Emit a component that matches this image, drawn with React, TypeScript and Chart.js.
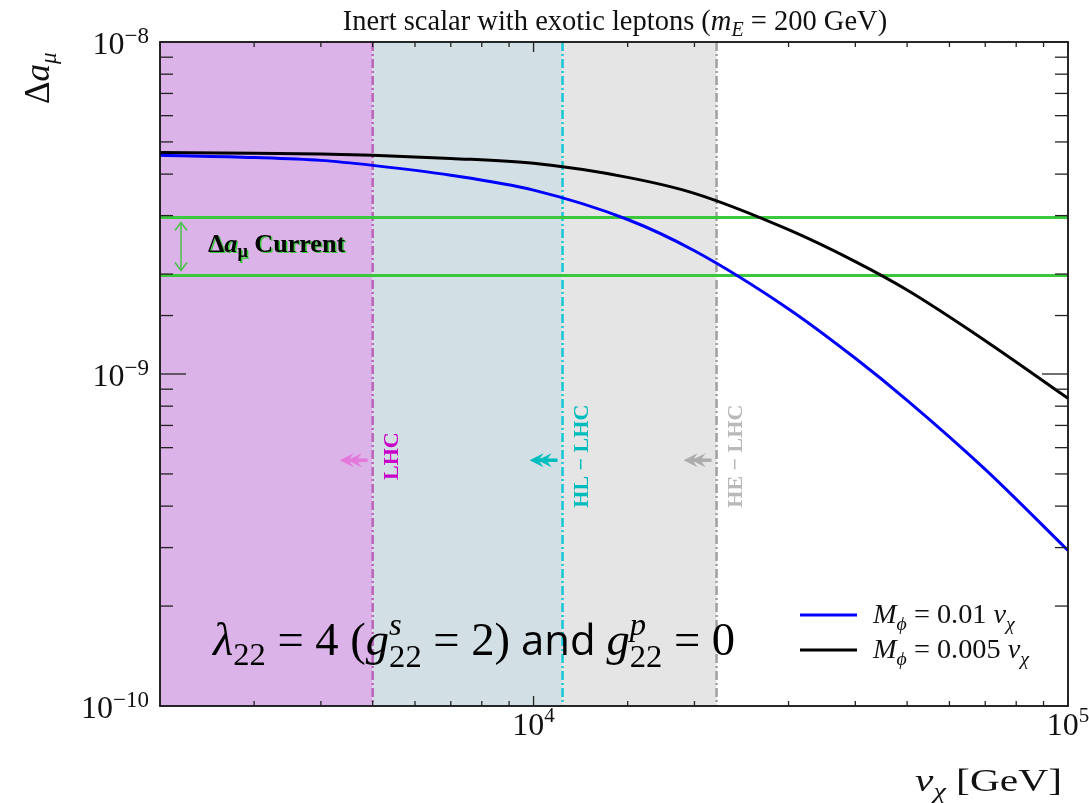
import React, { useEffect, useRef } from "react";
import { Chart, registerables } from "chart.js";

Chart.register(...registerables);

// ---------------- data ----------------
const vChi = [2000, 3000, 4000, 5000, 7000, 10000, 15000, 20000, 30000, 40000, 50000, 70000, 100000];
const blueValues = [4.56e-9, 4.49e-9, 4.40e-9, 4.25e-9, 3.97e-9, 3.58e-9, 2.92e-9, 2.35e-9, 1.57e-9, 1.115e-9, 8.33e-10, 5.16e-10, 2.94e-10];
const blackValues = [4.65e-9, 4.62e-9, 4.60e-9, 4.56e-9, 4.46e-9, 4.31e-9, 3.91e-9, 3.50e-9, 2.72e-9, 2.18e-9, 1.79e-9, 1.26e-9, 8.45e-10];
const currentBand = [1.98e-9, 2.96e-9];
const colliderNames = ["LHC", "HL \u2212 LHC", "HE \u2212 LHC"];
const colliderLimits = [5000, 11330, 22000];
const xRange = [2000, 100000];
const yRange = [1e-10, 1e-8];
const xTickValues = [1e4, 1e5];
const xTickExps = ["4", "5"];
const yTickValues = [1e-8, 1e-9, 1e-10];
const yTickExps = ["\u22128", "\u22129", "\u221210"];
const arrowLevel = 5.5e-10;

// ---------------- styles ----------------
const SERIF = '"Liberation Serif", "DejaVu Serif", serif';
const SANS = '"Open Sans", "Noto Sans", sans-serif';
const bandColors = ["rgb(219,179,232)", "rgb(210,223,228)", "rgb(229,229,229)"];
const lineColors = ["rgb(185,100,185)", "rgb(20,200,212)", "rgb(160,160,160)"];
const arrowColors = ["rgb(228,120,218)", "rgb(0,190,190)", "rgb(172,172,172)"];
const textColors = ["rgb(200,0,200)", "rgb(0,188,188)", "rgb(185,185,185)"];
const GREEN = "rgb(60,200,60)";

type Seg = { t: string; f: string; dy?: number; back?: boolean; c?: string };

const px = (n: number) => `${Math.round(n * 10) / 10}px`;

function richWidth(ctx: CanvasRenderingContext2D, segs: Seg[]) {
  let w = 0;
  for (const s of segs) {
    ctx.font = s.f;
    if (!s.back) w += ctx.measureText(s.t).width;
  }
  return w;
}

function drawRich(ctx: CanvasRenderingContext2D, segs: Seg[], x: number, y: number, align: "left" | "center" | "right", color: string) {
  const w = richWidth(ctx, segs);
  let cx = align === "left" ? x : align === "center" ? x - w / 2 : x - w;
  ctx.textAlign = "left";
  ctx.textBaseline = "alphabetic";
  for (const s of segs) {
    ctx.font = s.f;
    ctx.fillStyle = s.c || color;
    ctx.fillText(s.t, cx, y + (s.dy || 0));
    if (!s.back) cx += ctx.measureText(s.t).width;
  }
  return w;
}

function fitSize(ctx: CanvasRenderingContext2D, make: (s: number) => Seg[], target: number) {
  const w = richWidth(ctx, make(100));
  return Math.round((1000 * target) / w) / 10;
}

function line(ctx: CanvasRenderingContext2D, x0: number, y0: number, x1: number, y1: number) {
  ctx.beginPath();
  ctx.moveTo(x0, y0);
  ctx.lineTo(x1, y1);
  ctx.stroke();
}

function leftArrow(ctx: CanvasRenderingContext2D, xTail: number, xTip: number, yy: number, color: string) {
  ctx.strokeStyle = color;
  ctx.fillStyle = color;
  ctx.lineWidth = 3.5;
  line(ctx, xTail, yy, xTip + 8, yy);
  for (const off of [0, 8]) {
    ctx.beginPath();
    ctx.moveTo(xTip + off, yy);
    ctx.lineTo(xTip + off + 14, yy - 7);
    ctx.lineTo(xTip + off + 9, yy);
    ctx.lineTo(xTip + off + 14, yy + 7);
    ctx.closePath();
    ctx.fill();
  }
}

const titleSegs = (s: number): Seg[] => [
  { t: "Inert scalar with exotic leptons (", f: `${px(s)} ${SERIF}` },
  { t: "m", f: `italic ${px(s)} ${SERIF}` },
  { t: "E", f: `italic ${px(s * 0.7)} ${SERIF}`, dy: s * 0.22 },
  { t: " = 200 GeV)", f: `${px(s)} ${SERIF}` },
];

const lambdaSegs = (s: number): Seg[] => [
  { t: "\u03bb", f: `italic ${px(s)} ${SERIF}` },
  { t: "22", f: `${px(s * 0.7)} ${SERIF}`, dy: s * 0.22 },
  { t: " = 4 (", f: `${px(s)} ${SERIF}` },
  { t: "g", f: `italic ${px(s)} ${SERIF}` },
  { t: "s", f: `italic ${px(s * 0.7)} ${SERIF}`, dy: -s * 0.42, back: true },
  { t: "22", f: `${px(s * 0.7)} ${SERIF}`, dy: s * 0.26 },
  { t: " = 2)", f: `${px(s)} ${SERIF}` },
  { t: " and ", f: `${px(s * 0.9)} ${SANS}` },
  { t: "g", f: `italic ${px(s)} ${SERIF}` },
  { t: "p", f: `italic ${px(s * 0.7)} ${SERIF}`, dy: -s * 0.42, back: true },
  { t: "22", f: `${px(s * 0.7)} ${SERIF}`, dy: s * 0.26 },
  { t: " = 0", f: `${px(s)} ${SERIF}` },
];

const legendSegs = (s: number, val: string): Seg[] => [
  { t: "M", f: `italic ${px(s)} ${SERIF}` },
  { t: "\u03d5", f: `italic ${px(s * 0.7)} ${SERIF}`, dy: s * 0.25 },
  { t: ` = ${val} `, f: `${px(s)} ${SERIF}` },
  { t: "v", f: `italic ${px(s)} ${SERIF}` },
  { t: "\u03c7", f: `italic ${px(s * 0.7)} ${SERIF}`, dy: s * 0.25 },
];

const currentSegs = (s: number): Seg[] => [
  { t: "\u0394", f: `bold ${px(s)} ${SERIF}` },
  { t: "a", f: `bold italic ${px(s)} ${SERIF}` },
  { t: "\u03bc", f: `bold ${px(s * 0.7)} ${SERIF}`, dy: s * 0.22 },
  { t: " Current", f: `bold ${px(s)} ${SERIF}` },
];

const xTitleSegs: Seg[] = [
  { t: "v", f: `italic 31px ${SERIF}` },
  { t: "\u03c7", f: `italic 21px ${SERIF}`, dy: 7 },
  { t: " [GeV]", f: `31px ${SERIF}` },
];

const overlay = {
  id: "overlay",
  beforeDatasetsDraw(chart: any) {
    const { ctx, chartArea: a, scales } = chart;
    const x = scales.x;
    const y = scales.y;
    ctx.save();
    let prev = xRange[0];
    colliderLimits.forEach((lim, i) => {
      const x0 = x.getPixelForValue(prev);
      const x1 = x.getPixelForValue(lim);
      ctx.fillStyle = bandColors[i];
      ctx.fillRect(x0, a.top, x1 - x0, a.bottom - a.top);
      prev = lim;
    });
    colliderLimits.forEach((lim, i) => {
      const p = x.getPixelForValue(lim);
      ctx.strokeStyle = lineColors[i];
      ctx.lineWidth = 2.5;
      ctx.setLineDash([9, 3, 2, 3]);
      line(ctx, p, a.top, p, a.bottom);
    });
    ctx.setLineDash([]);
    const ay = y.getPixelForValue(arrowLevel);
    colliderLimits.forEach((lim, i) => {
      const p = x.getPixelForValue(lim);
      leftArrow(ctx, p - 5, p - 33, ay, arrowColors[i]);
      ctx.save();
      ctx.translate(p + 25, ay - 4);
      ctx.rotate(-Math.PI / 2);
      ctx.font = `bold 22px ${SERIF}`;
      ctx.fillStyle = textColors[i];
      ctx.textAlign = "center";
      ctx.textBaseline = "alphabetic";
      ctx.fillText(colliderNames[i], 0, 0);
      ctx.restore();
    });
    ctx.restore();
  },
  afterDatasetsDraw(chart: any) {
    const { ctx, chartArea: a, scales } = chart;
    const x = scales.x;
    const y = scales.y;
    ctx.save();

    // current band arrow + label
    const yTop = y.getPixelForValue(currentBand[1]);
    const yBot = y.getPixelForValue(currentBand[0]);
    const ax = a.left + 21;
    ctx.strokeStyle = "rgb(70,195,70)";
    ctx.lineWidth = 1.5;
    line(ctx, ax, yTop + 5, ax, yBot - 5);
    ctx.beginPath();
    ctx.moveTo(ax - 6, yTop + 13); ctx.lineTo(ax, yTop + 5); ctx.lineTo(ax + 6, yTop + 13);
    ctx.moveTo(ax - 6, yBot - 13); ctx.lineTo(ax, yBot - 5); ctx.lineTo(ax + 6, yBot - 13);
    ctx.stroke();
    const cs = fitSize(ctx, currentSegs, 137);
    const cy = (yTop + yBot) / 2 + 5;
    drawRich(ctx, currentSegs(cs), a.left + 49.5, cy + 1.5, "left", "rgb(60,200,60)");
    drawRich(ctx, currentSegs(cs), a.left + 48, cy, "left", "#000");

    // lambda annotation
    const ls = fitSize(ctx, lambdaSegs, 522);
    drawRich(ctx, lambdaSegs(ls), 213, 655, "left", "#000");

    // legend
    const lg = fitSize(ctx, (s) => legendSegs(s, "0.01"), 142);
    ctx.lineWidth = 3;
    ctx.strokeStyle = "rgb(0,0,255)";
    line(ctx, 800, 615, 857, 615);
    ctx.strokeStyle = "#000";
    line(ctx, 800, 650, 857, 650);
    drawRich(ctx, legendSegs(lg, "0.01"), 873, 623, "left", "#111");
    drawRich(ctx, legendSegs(lg, "0.005"), 873, 658, "left", "#111");

    // frame
    ctx.strokeStyle = "#111";
    ctx.lineWidth = 1.8;
    ctx.strokeRect(a.left, a.top, a.right - a.left, a.bottom - a.top);

    // ticks
    const mant = (v: number) => v / Math.pow(10, Math.floor(Math.log10(v) + 1e-9));
    ctx.lineWidth = 1.3;
    ctx.strokeStyle = "#222";
    for (const t of y.ticks) {
      const v = t.value;
      if (v < yRange[0] * 0.999 || v > yRange[1] * 1.001) continue;
      const major = Math.abs(mant(v) - 1) < 1e-6;
      const len = major ? 26 : 13;
      const py = y.getPixelForValue(v);
      line(ctx, a.left, py, a.left + len, py);
      line(ctx, a.right, py, a.right - len, py);
    }
    for (const t of x.ticks) {
      const v = t.value;
      if (v < xRange[0] * 0.999 || v > xRange[1] * 1.001) continue;
      const major = Math.abs(mant(v) - 1) < 1e-6;
      const len = major ? 10 : 5;
      const p = x.getPixelForValue(v);
      line(ctx, p, a.bottom, p, a.bottom - len);
      line(ctx, p, a.top, p, a.top + len);
    }

    // tick labels
    yTickValues.forEach((v, i) => {
      const py = y.getPixelForValue(v);
      drawRich(ctx, [
        { t: "10", f: `32px ${SERIF}` },
        { t: yTickExps[i], f: `23px ${SERIF}`, dy: -11 },
      ], 149, py + 12, "right", "#111");
    });
    xTickValues.forEach((v, i) => {
      const p = x.getPixelForValue(v);
      drawRich(ctx, [
        { t: "10", f: `32px ${SERIF}` },
        { t: xTickExps[i], f: `21px ${SERIF}`, dy: -13 },
      ], p, 735, "center", "#111");
    });

    // x axis title (stretched horizontally like the reference)
    const xw = richWidth(ctx, xTitleSegs);
    ctx.save();
    ctx.translate(1062, 791);
    ctx.scale(147 / xw, 1);
    drawRich(ctx, xTitleSegs, 0, 0, "right", "#111");
    ctx.restore();

    // y axis title
    ctx.save();
    ctx.translate(49, 104);
    ctx.rotate(-Math.PI / 2);
    drawRich(ctx, [
      { t: "\u0394", f: `35px ${SERIF}` },
      { t: "a", f: `italic 35px ${SERIF}` },
      { t: "\u03bc", f: `italic 23px ${SERIF}`, dy: 7 },
    ], 0, 0, "left", "#111");
    ctx.restore();

    // title
    const ts = fitSize(ctx, titleSegs, 544);
    drawRich(ctx, titleSegs(ts), 615, 30, "center", "#111");

    ctx.restore();
  },
};

export default function App() {
  const ref = useRef<HTMLCanvasElement>(null);
  useEffect(() => {
    const canvas = ref.current;
    if (!canvas) return;
    const chart = new Chart(canvas, {
      type: "line",
      data: {
        datasets: [
          {
            label: "M_phi = 0.01 v_chi",
            data: vChi.map((v, i) => ({ x: v, y: blueValues[i] })),
            borderColor: "rgb(0,0,255)",
            borderWidth: 3,
            pointRadius: 0,
            cubicInterpolationMode: "monotone",
          },
          {
            label: "M_phi = 0.005 v_chi",
            data: vChi.map((v, i) => ({ x: v, y: blackValues[i] })),
            borderColor: "#000",
            borderWidth: 3,
            pointRadius: 0,
            cubicInterpolationMode: "monotone",
          },
          {
            label: "current upper",
            data: xRange.map((v) => ({ x: v, y: currentBand[1] })),
            borderColor: GREEN,
            borderWidth: 3,
            pointRadius: 0,
          },
          {
            label: "current lower",
            data: xRange.map((v) => ({ x: v, y: currentBand[0] })),
            borderColor: GREEN,
            borderWidth: 3,
            pointRadius: 0,
          },
        ],
      } as any,
      options: {
        responsive: false,
        animation: false,
        devicePixelRatio: 1,
        layout: { padding: { top: 42, right: 21, left: 0, bottom: 0 } },
        plugins: { legend: { display: false }, tooltip: { enabled: false }, title: { display: false } },
        scales: {
          x: {
            type: "logarithmic",
            min: xRange[0],
            max: xRange[1],
            ticks: { display: false },
            grid: { display: false },
            border: { display: false },
            afterFit: (s: any) => { s.height = 97; },
          },
          y: {
            type: "logarithmic",
            min: yRange[0],
            max: yRange[1],
            ticks: { display: false },
            grid: { display: false },
            border: { display: false },
            afterFit: (s: any) => { s.width = 160; },
          },
        },
      } as any,
      plugins: [overlay],
    });
    return () => chart.destroy();
  }, []);
  return (
    <div style={{ position: "fixed", left: 0, top: 0, width: 1089, height: 803, background: "#fff" }}>
      <canvas ref={ref} width={1089} height={803} style={{ display: "block", width: 1089, height: 803 }} />
    </div>
  );
}
